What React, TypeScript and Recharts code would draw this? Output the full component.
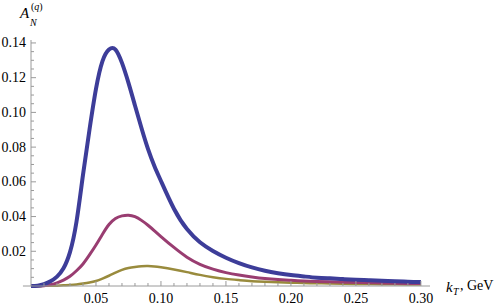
import React from 'react';
import { LineChart, Line, XAxis, YAxis, ReferenceLine } from 'recharts';

// kT grid (GeV) shared by the three curves
const kT = [
  0, 0.005, 0.01, 0.015, 0.02, 0.025, 0.03, 0.035, 0.04, 0.045, 0.05,
  0.055, 0.06, 0.065, 0.07, 0.075, 0.08, 0.085, 0.09, 0.095, 0.1,
  0.11, 0.12, 0.13, 0.14, 0.15, 0.16, 0.17, 0.18, 0.19, 0.2,
  0.21, 0.22, 0.23, 0.24, 0.25, 0.26, 0.27, 0.28, 0.29, 0.3,
];

const blueVals = [
  0, 0.0002, 0.001, 0.0027, 0.0054, 0.0102, 0.0195, 0.037, 0.064, 0.09, 0.1135,
  0.1295, 0.1362, 0.1362, 0.1285, 0.117, 0.104, 0.091, 0.079, 0.069, 0.0605,
  0.0445, 0.0328, 0.0252, 0.0202, 0.0163, 0.0132, 0.0107, 0.0088, 0.0074, 0.0063,
  0.0055, 0.0048, 0.0044, 0.004, 0.0036, 0.0033, 0.003, 0.0028, 0.0025, 0.0023,
];

const purpleVals = [
  0, 0, 0.0002, 0.0008, 0.0018, 0.0034, 0.0056, 0.0088, 0.0127, 0.0179, 0.0236,
  0.0298, 0.0354, 0.0389, 0.0404, 0.0408, 0.0399, 0.0378, 0.035, 0.0318, 0.0285,
  0.0222, 0.0166, 0.0125, 0.0097, 0.0077, 0.0063, 0.0052, 0.0043, 0.0037, 0.0033,
  0.0029, 0.0026, 0.0024, 0.0022, 0.002, 0.0019, 0.0017, 0.0016, 0.0015, 0.0014,
];

const oliveVals = [
  0, 0, 0.0001, 0.0001, 0.0002, 0.0004, 0.0006, 0.0009, 0.0014, 0.002, 0.0029,
  0.0043, 0.0059, 0.0077, 0.0093, 0.0104, 0.011, 0.0114, 0.0115, 0.0113, 0.0108,
  0.0095, 0.008, 0.0064, 0.0051, 0.0041, 0.0034, 0.0028, 0.0024, 0.0021, 0.0019,
  0.0017, 0.0016, 0.0014, 0.0013, 0.0012, 0.0011, 0.001, 0.001, 0.0009, 0.0009,
];

// ticks: majors get labels, the rest are minor marks
const xTicks = Array.from({ length: 30 }, (_, i) => +((i + 1) * 0.01).toFixed(2));
const yTicks = Array.from({ length: 28 }, (_, i) => +((i + 1) * 0.005).toFixed(3));

const data = kT.map((k, i) => ({
  k,
  blue: blueVals[i],
  purple: purpleVals[i],
  olive: oliveVals[i],
}));

const AXIS = '#9a9a9a';
const FONT = "'Liberation Serif', serif";

const XTick = (props: any) => {
  const { x, y, payload } = props;
  const major = Math.round(payload.value * 1000) % 50 === 0;
  return (
    <g>
      <line x1={x} x2={x} y1={y} y2={y - (major ? 5 : 3)} stroke={AXIS} />
      {major && (
        <text x={x} y={y + 17} textAnchor="middle" fontSize={14} fill="#000" style={{ fontFamily: FONT }}>
          {payload.value.toFixed(2)}
        </text>
      )}
    </g>
  );
};

const YTick = (props: any) => {
  const { x, y, payload } = props;
  const major = Math.round(payload.value * 1000) % 20 === 0;
  return (
    <g>
      <line x1={x} x2={x + (major ? 5 : 3)} y1={y} y2={y} stroke={AXIS} />
      {major && (
        <text x={x - 5} y={y + 4.5} textAnchor="end" fontSize={14} fill="#000" style={{ fontFamily: FONT }}>
          {payload.value.toFixed(2)}
        </text>
      )}
    </g>
  );
};

const lbl: React.CSSProperties = { position: 'absolute', fontFamily: FONT, lineHeight: 1, color: '#000', whiteSpace: 'nowrap' };

export default function App() {
  return (
    <div style={{ position: 'absolute', left: 0, top: 0, width: 498, height: 307, background: '#fff', fontFamily: FONT }}>
      <LineChart width={498} height={307} data={data} margin={{ top: 40, right: 68, bottom: 0, left: 0 }}>
        <XAxis
          dataKey="k"
          type="number"
          domain={[0, 0.307]}
          ticks={xTicks}
          interval={0}
          height={21}
          tickSize={0}
          tickMargin={0}
          tickLine={false}
          axisLine={{ stroke: AXIS }}
          tick={<XTick />}
        />
        <YAxis
          type="number"
          domain={[0, 0.1417]}
          ticks={yTicks}
          interval={0}
          width={31}
          tickSize={0}
          tickMargin={0}
          tickLine={false}
          axisLine={{ stroke: AXIS }}
          tick={<YTick />}
        />
        <ReferenceLine
          segment={[{ x: -0.0062, y: 0 }, { x: 0, y: 0 }]}
          stroke={AXIS}
          ifOverflow="visible"
        />
        <Line type="natural" dataKey="olive" stroke="#998B3D" strokeWidth={2.5} dot={false} isAnimationActive={false} />
        <Line type="natural" dataKey="purple" stroke="#993D71" strokeWidth={3} dot={false} isAnimationActive={false} />
        <Line type="natural" dataKey="blue" stroke="#3D3D99" strokeWidth={4} dot={false} isAnimationActive={false} />
      </LineChart>
      <div style={{ ...lbl, left: 20, top: 6, fontSize: 15, fontStyle: 'italic' }}>A</div>
      <div style={{ ...lbl, left: 30, top: 18, fontSize: 10, fontStyle: 'italic' }}>N</div>
      <div style={{ ...lbl, left: 31, top: 2, fontSize: 10 }}>
        (<i>q</i>)
      </div>
      <div style={{ ...lbl, left: 446, top: 280, fontSize: 15, fontStyle: 'italic' }}>k</div>
      <div style={{ ...lbl, left: 453, top: 287, fontSize: 10, fontStyle: 'italic' }}>T</div>
      <div style={{ ...lbl, left: 460, top: 279, fontSize: 14 }}>, GeV</div>
    </div>
  );
}
